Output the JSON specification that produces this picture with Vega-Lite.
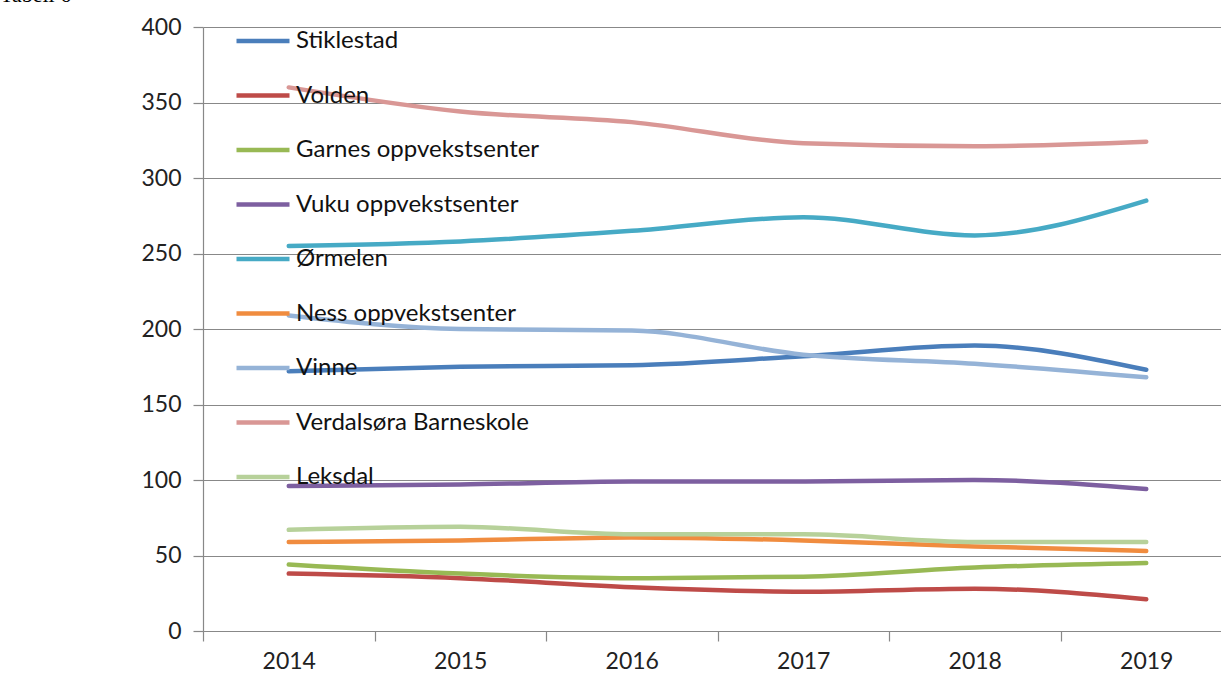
{
  "$schema": "https://vega.github.io/schema/vega-lite/v6.json",
  "autosize": {"type": "none"},
  "width": 1029,
  "height": 604,
  "padding": {"left": 203, "top": 27, "right": 0, "bottom": 48},
  "background": "white",
  "title": {"text": "Tabell 6", "anchor": "start", "frame": "group", "dx": -203, "dy": 22, "offset": 10, "font": "Liberation Serif", "fontSize": 22, "fontWeight": "normal", "color": "#000", "baseline": "alphabetic"},
  "config": {
    "view": {"stroke": null},
    "font": "Lato",
    "axis": {"labelFont": "Lato", "labelFontSize": 23, "labelColor": "#222", "domainColor": "#888", "tickColor": "#888", "gridColor": "#888", "domainWidth": 1.2, "tickWidth": 1.2, "gridWidth": 1.2, "title": null}
  },
  "data": {"values": [
    {"year": "2014", "school": "Stiklestad", "v": 172}, {"year": "2015", "school": "Stiklestad", "v": 175}, {"year": "2016", "school": "Stiklestad", "v": 176}, {"year": "2017", "school": "Stiklestad", "v": 182}, {"year": "2018", "school": "Stiklestad", "v": 189}, {"year": "2019", "school": "Stiklestad", "v": 173},
    {"year": "2014", "school": "Volden", "v": 38}, {"year": "2015", "school": "Volden", "v": 35}, {"year": "2016", "school": "Volden", "v": 29}, {"year": "2017", "school": "Volden", "v": 26}, {"year": "2018", "school": "Volden", "v": 28}, {"year": "2019", "school": "Volden", "v": 21},
    {"year": "2014", "school": "Garnes oppvekstsenter", "v": 44}, {"year": "2015", "school": "Garnes oppvekstsenter", "v": 38}, {"year": "2016", "school": "Garnes oppvekstsenter", "v": 35}, {"year": "2017", "school": "Garnes oppvekstsenter", "v": 36}, {"year": "2018", "school": "Garnes oppvekstsenter", "v": 42}, {"year": "2019", "school": "Garnes oppvekstsenter", "v": 45},
    {"year": "2014", "school": "Vuku oppvekstsenter", "v": 96}, {"year": "2015", "school": "Vuku oppvekstsenter", "v": 97}, {"year": "2016", "school": "Vuku oppvekstsenter", "v": 99}, {"year": "2017", "school": "Vuku oppvekstsenter", "v": 99}, {"year": "2018", "school": "Vuku oppvekstsenter", "v": 100}, {"year": "2019", "school": "Vuku oppvekstsenter", "v": 94},
    {"year": "2014", "school": "Ørmelen", "v": 255}, {"year": "2015", "school": "Ørmelen", "v": 258}, {"year": "2016", "school": "Ørmelen", "v": 265}, {"year": "2017", "school": "Ørmelen", "v": 274}, {"year": "2018", "school": "Ørmelen", "v": 262}, {"year": "2019", "school": "Ørmelen", "v": 285},
    {"year": "2014", "school": "Ness oppvekstsenter", "v": 59}, {"year": "2015", "school": "Ness oppvekstsenter", "v": 60}, {"year": "2016", "school": "Ness oppvekstsenter", "v": 62}, {"year": "2017", "school": "Ness oppvekstsenter", "v": 60}, {"year": "2018", "school": "Ness oppvekstsenter", "v": 56}, {"year": "2019", "school": "Ness oppvekstsenter", "v": 53},
    {"year": "2014", "school": "Vinne", "v": 209}, {"year": "2015", "school": "Vinne", "v": 200}, {"year": "2016", "school": "Vinne", "v": 199}, {"year": "2017", "school": "Vinne", "v": 183}, {"year": "2018", "school": "Vinne", "v": 177}, {"year": "2019", "school": "Vinne", "v": 168},
    {"year": "2014", "school": "Verdalsøra Barneskole", "v": 360}, {"year": "2015", "school": "Verdalsøra Barneskole", "v": 344}, {"year": "2016", "school": "Verdalsøra Barneskole", "v": 337}, {"year": "2017", "school": "Verdalsøra Barneskole", "v": 323}, {"year": "2018", "school": "Verdalsøra Barneskole", "v": 321}, {"year": "2019", "school": "Verdalsøra Barneskole", "v": 324},
    {"year": "2014", "school": "Leksdal", "v": 67}, {"year": "2015", "school": "Leksdal", "v": 69}, {"year": "2016", "school": "Leksdal", "v": 64}, {"year": "2017", "school": "Leksdal", "v": 64}, {"year": "2018", "school": "Leksdal", "v": 59}, {"year": "2019", "school": "Leksdal", "v": 59}
  ]},
  "mark": {"type": "line", "strokeWidth": 4.5, "strokeCap": "round", "interpolate": "monotone"},
  "encoding": {
    "x": {"field": "year", "type": "ordinal", "scale": {"type": "band", "paddingInner": 0, "paddingOuter": 0}, "bandPosition": 0.5,
      "axis": {"labelAngle": 0, "tickBand": "extent", "tickSize": 10, "labelPadding": 9, "domain": true, "grid": false}},
    "y": {"field": "v", "type": "quantitative", "scale": {"domain": [0, 400], "nice": false},
      "axis": {"values": [0, 50, 100, 150, 200, 250, 300, 350, 400], "tickSize": 10, "labelPadding": 12, "grid": true}},
    "color": {"field": "school", "type": "nominal",
      "scale": {"domain": ["Stiklestad", "Volden", "Garnes oppvekstsenter", "Vuku oppvekstsenter", "Ørmelen", "Ness oppvekstsenter", "Vinne", "Verdalsøra Barneskole", "Leksdal"],
        "range": ["#4A7EBB", "#BE4B48", "#98B954", "#7D5FA0", "#46AAC5", "#F08C3F", "#95B3D7", "#D99795", "#B7D19A"]},
      "legend": {"orient": "none", "legendX": 31, "legendY": -15, "title": null, "symbolType": "stroke", "symbolSize": 2809, "symbolStrokeWidth": 4.5, "labelFontSize": 24, "labelFont": "Lato", "labelColor": "#111", "labelOffset": 4, "rowPadding": 13.5, "labelLimit": 400}
    },
    "order": {"field": "school"}
  }
}
